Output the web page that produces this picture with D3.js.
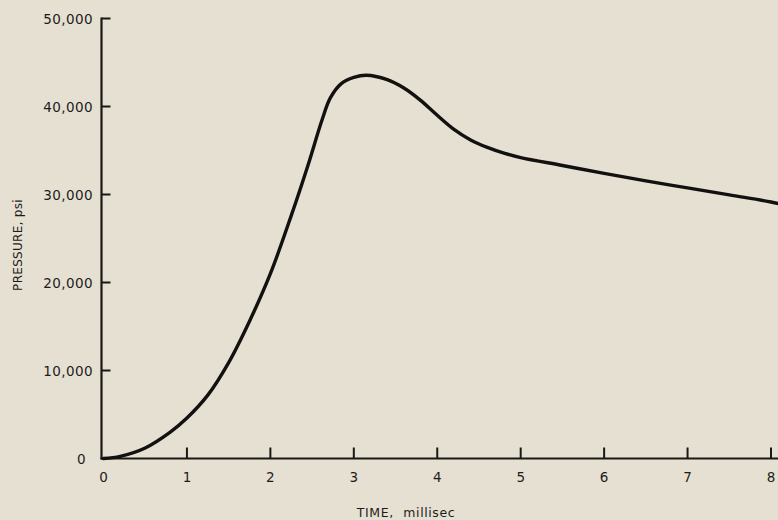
<!DOCTYPE html>
<html><head><meta charset="utf-8">
<script src="https://cdn.jsdelivr.net/npm/d3@7"></script>
<style>
html,body{margin:0;padding:0;background:#e6e0d3;}
svg{display:block;}
text{font-family:"DejaVu Sans",sans-serif;fill:#1e1c1a;}
</style></head>
<body>
<svg id="c" width="778" height="520"></svg>
<script>
const timeMs = [0, 0.2, 0.5, 0.8, 1.0, 1.25, 1.5, 1.75, 2.0, 2.25, 2.45, 2.62, 2.72, 2.85, 3.0, 3.15, 3.4, 3.6, 3.8, 4.0, 4.2, 4.4, 4.6, 4.8, 5.0, 5.5, 6.0, 6.5, 7.0, 7.5, 8.0, 8.09];
const pressurePsi = [0, 250, 1200, 3000, 4600, 7200, 10900, 15600, 21000, 27600, 33300, 38500, 41000, 42600, 43300, 43550, 43050, 42100, 40700, 39000, 37400, 36200, 35350, 34700, 34200, 33300, 32400, 31550, 30750, 29950, 29150, 28950];
const xTicks = [0, 1, 2, 3, 4, 5, 6, 7, 8];
const yTicks = [0, 10000, 20000, 30000, 40000, 50000];
const yTickLabels = ["0", "10,000", "20,000", "30,000", "40,000", "50,000"];
const xTitle = "TIME, millisec";
const yTitle = "PRESSURE, psi";

const svg = d3.select("#c");
const x = d3.scaleLinear().domain([0, 8]).range([103.5, 771]);
const y = d3.scaleLinear().domain([0, 50000]).range([458.5, 18.5]);
const axisX0 = 101.5;

// x axis
const gx = svg.append("g");
gx.append("line").attr("x1", axisX0 - 1).attr("x2", 778).attr("y1", y(0)).attr("y2", y(0))
  .attr("stroke", "#1a1816").attr("stroke-width", 2.2);
gx.selectAll("line.t").data(xTicks.slice(1)).join("line").attr("class", "t")
  .attr("x1", d => x(d)).attr("x2", d => x(d)).attr("y1", y(0)).attr("y2", y(0) - 11)
  .attr("stroke", "#1a1816").attr("stroke-width", 2);
gx.selectAll("text").data(xTicks).join("text")
  .attr("x", d => x(d)).attr("y", 482).attr("text-anchor", "middle")
  .attr("font-size", 13.5).text(d => d);

// y axis
const gy = svg.append("g");
gy.append("line").attr("x1", axisX0).attr("x2", axisX0).attr("y1", y(50000) - 1).attr("y2", y(0) + 1)
  .attr("stroke", "#1a1816").attr("stroke-width", 2.2);
gy.selectAll("line.t").data(yTicks.slice(1)).join("line").attr("class", "t")
  .attr("x1", axisX0).attr("x2", axisX0 + 9).attr("y1", d => y(d)).attr("y2", d => y(d))
  .attr("stroke", "#1a1816").attr("stroke-width", 2);
gy.selectAll("text").data(yTicks).join("text")
  .attr("x", d => d === 0 ? 86 : 93).attr("y", d => y(d) + 5).attr("text-anchor", "end")
  .attr("font-size", 13.5).attr("letter-spacing", 0.4)
  .text((d, i) => yTickLabels[i]);

// titles
svg.append("text").attr("x", 406).attr("y", 517).attr("text-anchor", "middle")
  .attr("font-size", 12.5).attr("letter-spacing", 0.6).attr("word-spacing", 5).text(xTitle);
svg.append("text").attr("transform", "translate(22,245) rotate(-90)").attr("text-anchor", "middle")
  .attr("font-size", 12).attr("letter-spacing", 0.3).text(yTitle);

// curve
const line = d3.line().x((d, i) => x(timeMs[i])).y(d => y(d)).curve(d3.curveCatmullRom.alpha(0.5));
svg.append("path").datum(pressurePsi).attr("d", line)
  .attr("fill", "none").attr("stroke", "#121110").attr("stroke-width", 3.4)
  .attr("stroke-linejoin", "round").attr("stroke-linecap", "round");
</script>
</body></html>
